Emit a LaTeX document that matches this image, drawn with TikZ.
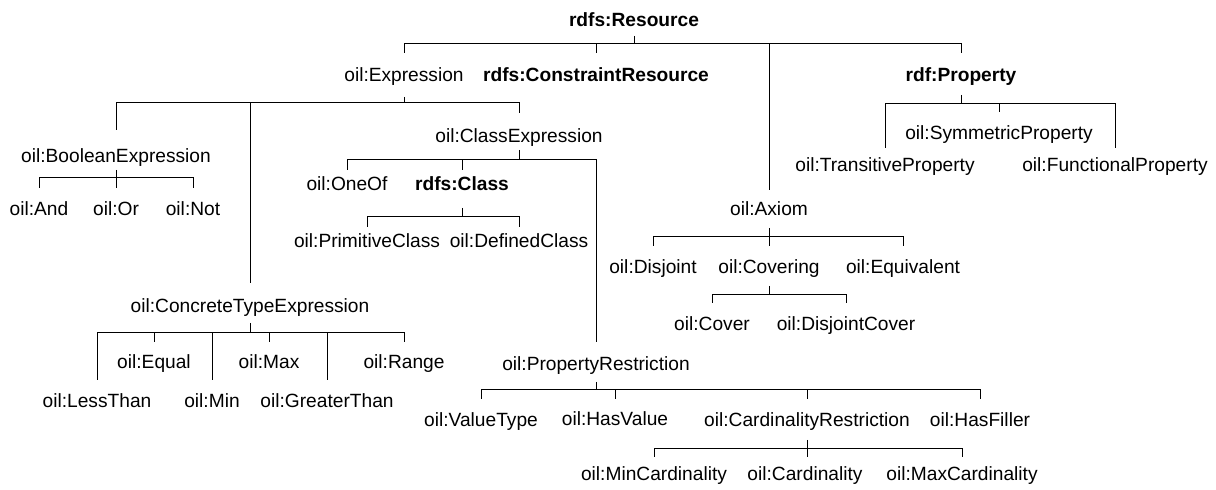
\documentclass[tikz,border=0pt]{standalone}
\usepackage{fontspec}
\setmainfont{Liberation Sans}
\begin{document}
\begin{tikzpicture}[x=0.6pt,y=-0.6pt,
  cls/.style={anchor=base,inner sep=0pt,font=\fontsize{11.5}{14}\selectfont},
  rdf/.style={anchor=base,inner sep=0pt,font=\fontsize{11.5}{14}\selectfont\bfseries},
  tree/.style={line width=0.6pt}]
\useasboundingbox (0,0) rectangle (1216,490);
\node[rdf] (res) at (634,27) {rdfs:Resource};
\node[cls] (exp) at (404,82) {oil:Expression};
\node[rdf] (cres) at (596,82) {rdfs:ConstraintResource};
\node[rdf] (prop) at (961,82) {rdf:Property};
\node[cls] (sym) at (999,140) {oil:SymmetricProperty};
\node[cls] (trans) at (885,172) {oil:TransitiveProperty};
\node[cls] (func) at (1115,172) {oil:FunctionalProperty};
\node[cls] (clsexp) at (519,143) {oil:ClassExpression};
\node[cls] (bool) at (116,163) {oil:BooleanExpression};
\node[cls] (oneof) at (347,191) {oil:OneOf};
\node[rdf] (rclass) at (462,191) {rdfs:Class};
\node[cls] (and) at (39,216) {oil:And};
\node[cls] (or) at (116,216) {oil:Or};
\node[cls] (not) at (193,216) {oil:Not};
\node[cls] (axiom) at (769,216) {oil:Axiom};
\node[cls] (prim) at (367,248) {oil:PrimitiveClass};
\node[cls] (defcls) at (519,248) {oil:DefinedClass};
\node[cls] (disj) at (653,274) {oil:Disjoint};
\node[cls] (cov) at (769,274) {oil:Covering};
\node[cls] (equiv) at (903,274) {oil:Equivalent};
\node[cls] (cte) at (250,313) {oil:ConcreteTypeExpression};
\node[cls] (cover) at (712,331) {oil:Cover};
\node[cls] (dcover) at (846,331) {oil:DisjointCover};
\node[cls] (equal) at (154,369) {oil:Equal};
\node[cls] (max) at (269,369) {oil:Max};
\node[cls] (range) at (404,369) {oil:Range};
\node[cls] (pr) at (596,371) {oil:PropertyRestriction};
\node[cls] (less) at (97,408) {oil:LessThan};
\node[cls] (min) at (212,408) {oil:Min};
\node[cls] (greater) at (327,408) {oil:GreaterThan};
\node[cls] (vtype) at (481,427) {oil:ValueType};
\node[cls] (hasval) at (615,426) {oil:HasValue};
\node[cls] (card) at (807,427) {oil:CardinalityRestriction};
\node[cls] (filler) at (980,427) {oil:HasFiller};
\node[cls] (mincard) at (654,481) {oil:MinCardinality};
\node[cls] (cardn) at (805,481) {oil:Cardinality};
\node[cls] (maxcard) at (962,481) {oil:MaxCardinality};
\draw[tree] (res |- 0,36) -- (res |- 0,44);
\draw[tree] (exp |- 0,53) -- (exp |- 0,44) -- (prop |- 0,44) -- (prop |- 0,53);
\draw[tree] (cres |- 0,44) -- (cres |- 0,53);
\draw[tree] (axiom |- 0,44) -- (axiom |- 0,190);
\draw[tree] (exp |- 0,97) -- (exp |- 0,103);
\draw[tree] (bool |- 0,130) -- (bool |- 0,103) -- (clsexp |- 0,103) -- (clsexp |- 0,113);
\draw[tree] (cte |- 0,103) -- (cte |- 0,283);
\draw[tree] (prop |- 0,95) -- (prop |- 0,104);
\draw[tree] (trans |- 0,148) -- (trans |- 0,104) -- (func |- 0,104) -- (func |- 0,148);
\draw[tree] (sym |- 0,104) -- (sym |- 0,112);
\draw[tree] (bool |- 0,170) -- (or |- 0,188);
\draw[tree] (and |- 0,188) -- (and |- 0,178) -- (not |- 0,178) -- (not |- 0,188);
\draw[tree] (clsexp |- 0,150) -- (clsexp |- 0,160);
\draw[tree] (oneof |- 0,170) -- (oneof |- 0,160) -- (pr |- 0,160) -- (pr |- 0,342);
\draw[tree] (rclass |- 0,160) -- (rclass |- 0,170);
\draw[tree] (rclass |- 0,208) -- (rclass |- 0,217);
\draw[tree] (prim |- 0,227) -- (prim |- 0,217) -- (defcls |- 0,217) -- (defcls |- 0,227);
\draw[tree] (axiom |- 0,228) -- (cov |- 0,246);
\draw[tree] (disj |- 0,246) -- (disj |- 0,237) -- (equiv |- 0,237) -- (equiv |- 0,246);
\draw[tree] (cov |- 0,286) -- (cov |- 0,295);
\draw[tree] (cover |- 0,303) -- (cover |- 0,295) -- (dcover |- 0,295) -- (dcover |- 0,303);
\draw[tree] (cte |- 0,323) -- (cte |- 0,333);
\draw[tree] (less |- 0,380) -- (less |- 0,333) -- (range |- 0,333) -- (range |- 0,342);
\draw[tree] (equal |- 0,333) -- (equal |- 0,342);
\draw[tree] (min |- 0,333) -- (min |- 0,380);
\draw[tree] (max |- 0,333) -- (max |- 0,342);
\draw[tree] (greater |- 0,333) -- (greater |- 0,380);
\draw[tree] (pr |- 0,382) -- (pr |- 0,390);
\draw[tree] (vtype |- 0,399) -- (vtype |- 0,390) -- (filler |- 0,390) -- (filler |- 0,399);
\draw[tree] (hasval |- 0,390) -- (hasval |- 0,399);
\draw[tree] (card |- 0,390) -- (card |- 0,399);
\draw[tree] (card |- 0,440) -- (card |- 0,457);
\draw[tree] (mincard |- 0,457) -- (mincard |- 0,449) -- (maxcard |- 0,449) -- (maxcard |- 0,457);
\end{tikzpicture}
\end{document}
